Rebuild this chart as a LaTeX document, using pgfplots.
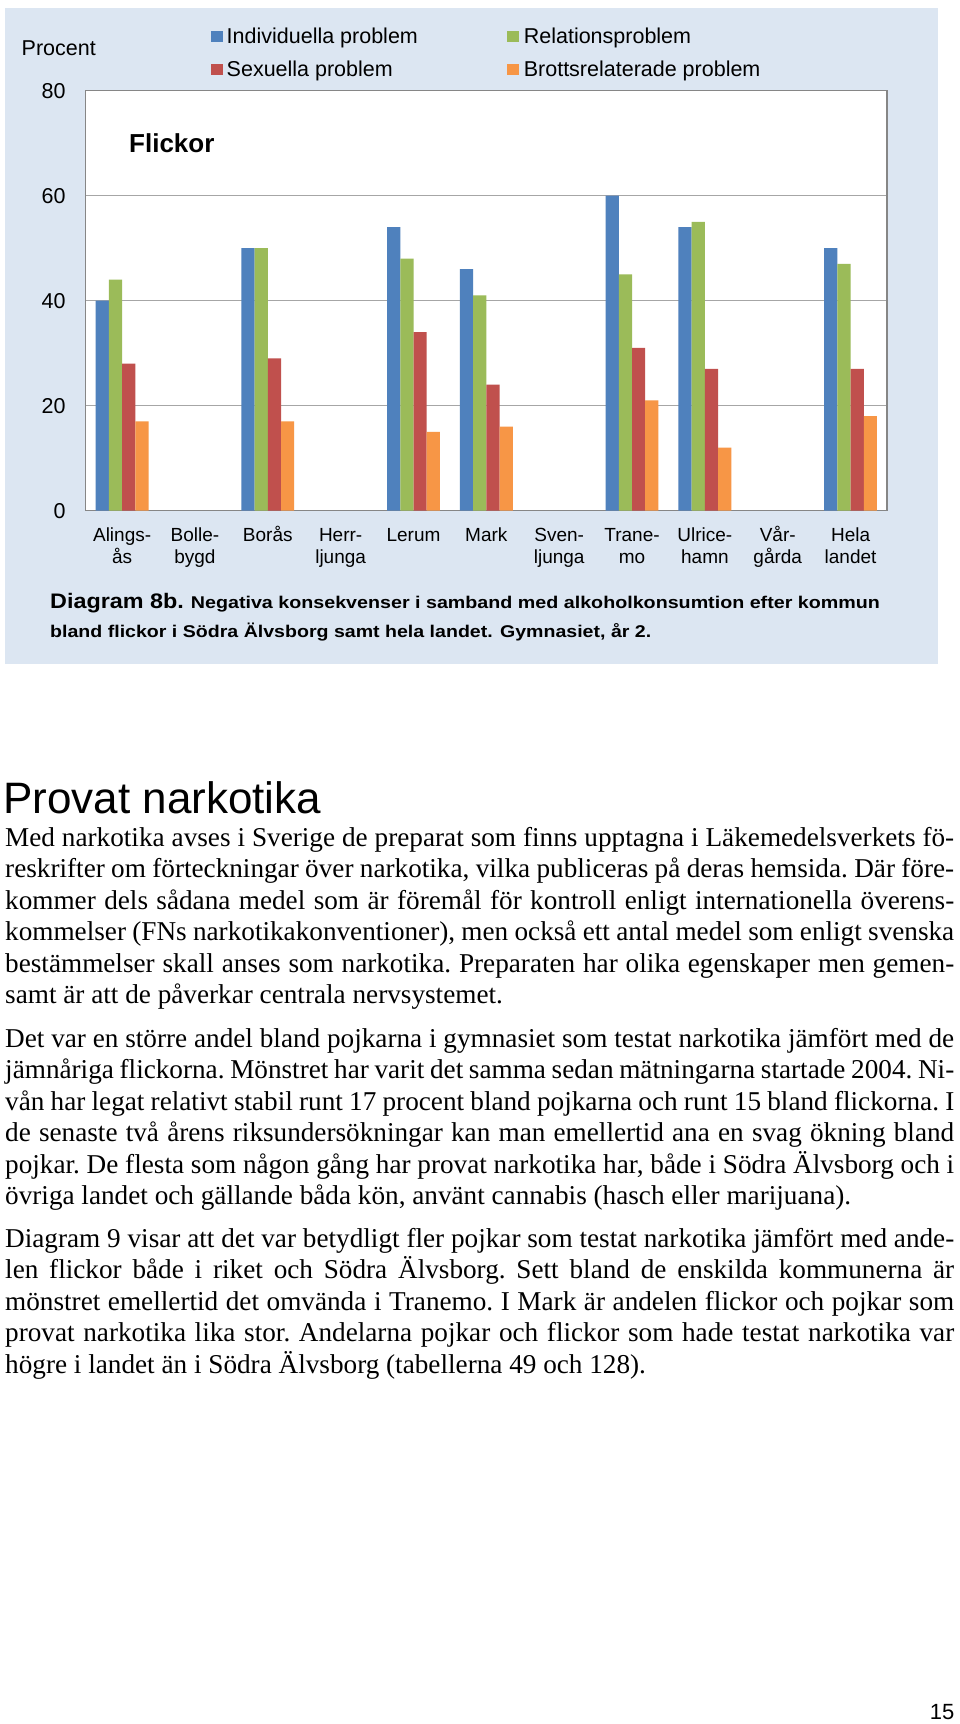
\documentclass[border=0pt]{standalone}
\usepackage{pgfplots}
\pgfplotsset{compat=1.18}
\usepackage{graphicx}
\usepackage{fontspec}
\setmainfont{Liberation Sans}
\newfontfamily\timesfont{Liberation Serif}
\definecolor{panelbg}{HTML}{DCE6F2}
\definecolor{axisgray}{HTML}{868686}
\definecolor{gridgray}{HTML}{A6A6A6}
\definecolor{cblue}{HTML}{4F81BD}
\definecolor{cgreen}{HTML}{9BBB59}
\definecolor{cred}{HTML}{C0504D}
\definecolor{corange}{HTML}{F79646}
\newcommand\lab[2]{\parbox[t]{90pt}{\centering #1\\#2}}
\newcommand\bodyfont{\timesfont\fontsize{27.2}{31.5}\selectfont\frenchspacing\spaceskip=0.25em plus 0.6em minus 0.1em\relax}
\newcommand\jl[2]{\node[anchor=base west, inner sep=0pt] at (5,#1) {\bodyfont\hbox to 949pt{#2}};}
\newcommand\nl[2]{\node[anchor=base west, inner sep=0pt] at (5,#1) {\bodyfont #2};}
\begin{document}
\begin{tikzpicture}[x=1pt,y=-1pt]
\useasboundingbox (0,0) rectangle (960,1724);
\fill[white] (0,0) rectangle (960,1724);
\fill[panelbg] (5,8) rectangle (938,664);
\begin{axis}[
  at={(85.7pt,-510.7pt)}, anchor=south west,
  scale only axis, width=801.3pt, height=420pt,
  xmin=-0.5, xmax=10.5, ymin=0, ymax=80,
  xtick={0,1,2,3,4,5,6,7,8,9,10},
  xticklabels={{\lab{Alings-}{ås}},{\lab{Bolle-}{bygd}},{\lab{Borås}{}},{\lab{Herr-}{ljunga}},{\lab{Lerum}{}},{\lab{Mark}{}},{\lab{Sven-}{ljunga}},{\lab{Trane-}{mo}},{\lab{Ulrice-}{hamn}},{\lab{Vår-}{gårda}},{\lab{Hela}{landet}}},
  ytick={0,20,40,60,80},
  /pgf/number format/assume math mode=true,
  ymajorgrids, grid style={gridgray, line width=1.1pt},
  axis line style={axisgray, line width=1.2pt},
  axis background/.style={fill=white},
  major tick length=0pt, tick style={draw=none},
  xticklabel style={anchor=base, inner sep=0pt, yshift=-31pt, font=\fontsize{19}{21.6}\selectfont},
  yticklabel style={anchor=east, inner sep=0pt, xshift=-20pt, font=\fontsize{21.5}{25}\selectfont},
  ybar=0pt, bar width=13.2pt,
  every axis plot/.append style={draw=none},
  legend columns=2,
  legend cell align=left,
  legend image code/.code={\fill[#1] (0pt,-5.5pt) rectangle (12pt,5.5pt);},
  legend style={draw=none, fill=none, inner sep=0pt, outer sep=0pt,
    at={(axis description cs:0.156,1.1502)}, anchor=north west,
    font=\fontsize{21.5}{25}\selectfont,
    nodes={inner sep=0pt},
    row sep=16.5pt,
    /tikz/column 1/.style={column sep=4pt},
    /tikz/column 2/.style={column sep=89.4pt},
    /tikz/column 3/.style={column sep=4.5pt}},
]
\addplot[fill=cblue] coordinates {(0,40) (2,50) (4,54) (5,46) (7,60) (8,54) (10,50)};
\addlegendentry{Individuella problem}
\addplot[fill=cgreen] coordinates {(0,44) (2,50) (4,48) (5,41) (7,45) (8,55) (10,47)};
\addlegendentry{Relationsproblem}
\addplot[fill=cred] coordinates {(0,28) (2,29) (4,34) (5,24) (7,31) (8,27) (10,27)};
\addlegendentry{Sexuella problem}
\addplot[fill=corange] coordinates {(0,17) (2,17) (4,15) (5,16) (7,21) (8,12) (10,18)};
\addlegendentry{Brottsrelaterade problem}
\end{axis}
\node[anchor=base west, inner sep=0pt, font=\fontsize{21.5}{25}\selectfont] at (21.5,55) {Procent};
\node[anchor=base west, inner sep=0pt, font=\fontsize{26}{30}\selectfont\bfseries] at (129,152) {Flickor};
\node[anchor=base west, inner sep=0pt] at (50,608) {\resizebox{133.7pt}{\height}{\fontsize{21}{24}\selectfont\bfseries Diagram 8b.}\hspace{7pt}\resizebox{689pt}{\height}{\fontsize{17}{20}\selectfont\bfseries Negativa konsekvenser i samband med alkoholkonsumtion efter kommun}};
\node[anchor=base west, inner sep=0pt] at (50,637) {\resizebox{601pt}{\height}{\fontsize{17}{20}\selectfont\bfseries bland flickor i Södra Älvsborg samt hela landet. Gymnasiet, år 2.}};
\node[anchor=base west, inner sep=0pt, font=\fontsize{44}{50}\selectfont] at (3,813) {Provat narkotika};
\jl{846}{Med narkotika avses i Sverige de preparat som finns upptagna i Läkemedelsverkets fö-}
\jl{877.5}{reskrifter om förteckningar över narkotika, vilka publiceras på deras hemsida. Där före-}
\jl{909}{kommer dels sådana medel som är föremål för kontroll enligt internationella överens-}
\jl{940.5}{kommelser (FNs narkotikakonventioner), men också ett antal medel som enligt svenska}
\jl{972}{bestämmelser skall anses som narkotika. Preparaten har olika egenskaper men gemen-}
\nl{1003.5}{samt är att de påverkar centrala nervsystemet.}
\jl{1047}{Det var en större andel bland pojkarna i gymnasiet som testat narkotika jämfört med de}
\jl{1078.5}{jämnåriga flickorna. Mönstret har varit det samma sedan mätningarna startade 2004. Ni-}
\jl{1110}{vån har legat relativt stabil runt 17 procent bland pojkarna och runt 15 bland flickorna. I}
\jl{1141.5}{de senaste två årens riksundersökningar kan man emellertid ana en svag ökning bland}
\jl{1173}{pojkar. De flesta som någon gång har provat narkotika har, både i Södra Älvsborg och i}
\nl{1204.5}{övriga landet och gällande båda kön, använt cannabis (hasch eller marijuana).}
\jl{1247}{Diagram 9 visar att det var betydligt fler pojkar som testat narkotika jämfört med ande-}
\jl{1278.5}{len flickor både i riket och Södra Älvsborg. Sett bland de enskilda kommunerna är}
\jl{1310}{mönstret emellertid det omvända i Tranemo. I Mark är andelen flickor och pojkar som}
\jl{1341.5}{provat narkotika lika stor. Andelarna pojkar och flickor som hade testat narkotika var}
\nl{1373}{högre i landet än i Södra Älvsborg (tabellerna 49 och 128).}
\node[anchor=base east, inner sep=0pt, font=\fontsize{22}{26}\selectfont] at (954.5,1719) {15};
\end{tikzpicture}
\end{document}
